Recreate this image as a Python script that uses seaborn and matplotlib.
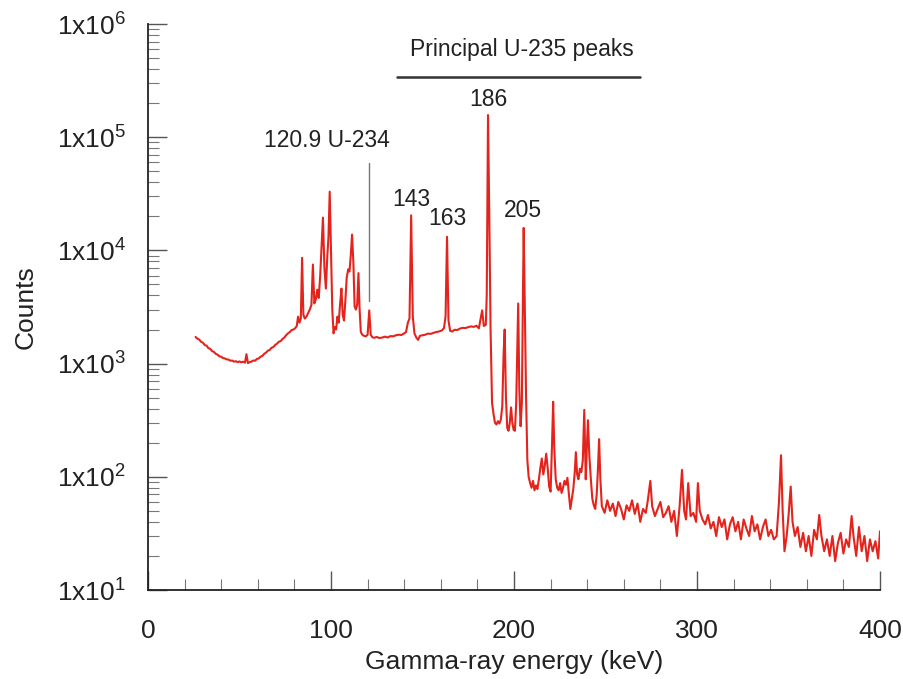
import numpy as np
import pandas as pd
import matplotlib
matplotlib.use("Agg")
import matplotlib.pyplot as plt
import seaborn as sns
from matplotlib.ticker import MultipleLocator, LogLocator, FixedLocator, NullFormatter

# ---- spectrum: gamma-ray energy (keV) and counts per channel ----
# low-energy continuum
energy_cont = [26, 27, 28, 29, 30, 31, 32, 33, 34, 35, 36, 37, 38, 39, 40, 41, 42, 43, 44, 45,
               46, 47, 48, 49, 50, 51, 52, 53, 53.8, 54.6, 55.5, 56.5, 57.5, 58.5, 59.5, 60.5,
               61.5, 62.5, 63.5, 64.5, 65.5, 66.5, 67.5, 68.5, 69.5, 70.5, 71.5, 72.5, 73.5,
               74.5, 75.5, 76.5, 77.5, 78.5, 79.5, 80.5, 81.3]
counts_cont = [1720, 1660, 1630, 1560, 1530, 1460, 1440, 1370, 1350, 1290, 1270, 1220, 1200,
               1160, 1150, 1120, 1110, 1090, 1085, 1060, 1065, 1040, 1050, 1030, 1045, 1025,
               1040, 1020, 1210, 1010, 1030, 1040, 1065, 1060, 1100, 1110, 1150, 1170, 1220,
               1250, 1300, 1320, 1380, 1400, 1460, 1500, 1560, 1580, 1650, 1700, 1780, 1850,
               1900, 1980, 2000, 2060, 2150]

# x-ray / U-234 region
energy_xray = [82, 82.8, 83.5, 84.2, 84.9, 85.7, 86.6, 87.5, 88.4, 89.3, 90.1, 90.9, 91.7, 92.5,
               93.3, 94.1, 94.8, 95.6, 96.4, 97.2, 98.0, 98.6, 99.3, 100.0, 100.7, 101.4, 102.1,
               102.8, 103.5, 104.2, 105.0, 105.7, 106.4, 107.1, 107.8, 108.6, 109.4, 110.1,
               110.8, 111.5, 112.2, 112.9, 113.6, 114.3, 115.0, 115.6, 116.3, 117.1, 118.0,
               119.0, 120.0, 120.9, 121.7, 122.6]
counts_xray = [2600, 2300, 2500, 8600, 2700, 2500, 2600, 2800, 3000, 3300, 7500, 3400, 3700,
               4500, 3800, 6000, 10500, 19500, 7000, 4600, 9000, 13000, 33000, 9500, 3000, 1850,
               2100, 2000, 2600, 2300, 3400, 4600, 2700, 2400, 3500, 5800, 6800, 6500, 9000,
               13800, 8000, 3200, 3000, 3300, 6300, 3100, 1900, 1800, 1760, 1740, 1800, 2950,
               1800, 1710]

# principal U-235 lines 143 / 163 / 186
energy_main = [123.5, 125, 126.5, 128, 129.5, 131, 132.5, 134, 135.5, 137, 138.5, 140, 141, 142,
               142.9, 143.8, 144.7, 145.6, 146.6, 147.6, 148.6, 150, 151.5, 153, 154.5, 156,
               157.5, 159, 160.5, 161.7, 162.6, 163.4, 164.2, 165.1, 166.2, 167.5, 169, 170.5,
               172, 173.5, 175, 176.5, 178, 179.5, 180.8, 181.8, 182.6, 183.5, 184.6, 185.1,
               185.8, 186.5, 187.2, 188.0, 188.8]
counts_main = [1690, 1720, 1680, 1700, 1730, 1700, 1750, 1740, 1780, 1800, 1790, 1850, 1900,
               2300, 2500, 20400, 2600, 1850, 1700, 1620, 1760, 1780, 1800, 1840, 1830, 1870,
               1900, 1920, 1960, 2050, 2600, 13200, 2400, 1950, 1920, 1990, 1980, 2040, 2070,
               2060, 2100, 2130, 2110, 2160, 2050, 2500, 2950, 2150, 2200, 4000, 157000, 20000,
               2000, 450, 360]

# 195 / 202 / 205 group
energy_205 = [189.6, 190.4, 191.2, 192, 192.8, 193.6, 194.3, 194.9, 195.6, 196.3, 197, 197.7,
              198.4, 199.1, 199.8, 200.5, 201.2, 201.8, 202.3, 202.9, 203.6, 204.3, 204.8,
              205.3, 205.9, 206.6, 207.3, 208]
counts_205 = [300, 290, 310, 295, 320, 420, 1200, 2000, 500, 270, 255, 300, 410, 300, 260, 255,
              450, 1400, 3400, 600, 280, 450, 3000, 15800, 3000, 500, 140, 100]

# 208-248 keV
energy_mid = [208.8, 209.6, 210.4, 211.2, 212, 212.8, 213.6, 214.4, 215.2, 216, 216.8, 217.6,
              218.4, 219.2, 220, 220.8, 221.4, 222, 222.8, 223.6, 224.4, 225.2, 226, 226.8,
              227.6, 228.4, 229.2, 230, 230.8, 231.6, 232.4, 233.2, 233.8, 234.5, 235.2, 236,
              236.8, 237.6, 238.4, 239.2, 239.8, 240.4, 241.2, 242, 242.8, 243.6, 244.4, 245.2,
              245.9, 246.5, 247.2]
counts_mid = [88, 80, 92, 76, 84, 78, 95, 120, 145, 105, 125, 160, 120, 82, 74, 200, 460, 180,
              95, 80, 76, 88, 72, 80, 92, 85, 98, 70, 52, 64, 78, 110, 165, 105, 95, 118, 110,
              140, 390, 95, 180, 316, 150, 95, 64, 56, 52, 70, 120, 215, 95]

# high-energy tail
energy_tail = [248, 249.5, 251, 252.5, 254, 255.5, 257, 258.5, 260, 261.5, 263, 264.5, 266,
               267.5, 269, 270.5, 272, 273, 274.5, 275.5, 277, 278.5, 280, 281.5, 283, 284.5,
               286, 287.5, 289, 290.5, 291.8, 293, 294, 295.2, 296.5, 298, 299.5, 300.5, 301.5,
               303, 304.5, 306, 307.5, 309, 310.5, 312, 313.5, 315, 316.5, 318, 319.5, 321,
               322.5, 324, 325.5, 327, 328.5, 330, 331.5, 333, 334.5, 336, 337.5, 339, 340.5,
               342, 343.5, 344.8, 345.9, 346.8, 347.8, 349, 350, 351.2, 352.2, 353.5, 355,
               356.5, 358, 359.5, 361, 362.5, 364, 365.5, 366.8, 368, 369.5, 371, 372.5, 374,
               375.5, 377, 378.5, 380, 381.5, 383, 384.5, 385.5, 387, 388.5, 390, 391.5, 393,
               394.5, 396, 397.5, 399, 400]
counts_tail = [55, 48, 62, 50, 58, 45, 60, 52, 42, 56, 50, 62, 47, 58, 40, 52, 48, 60, 92, 55,
               45, 52, 60, 44, 48, 55, 40, 50, 30, 55, 115, 50, 42, 88, 45, 48, 40, 88, 50, 42,
               38, 46, 35, 40, 30, 44, 36, 42, 28, 38, 44, 33, 40, 28, 42, 35, 30, 45, 33, 38,
               28, 36, 42, 30, 34, 28, 30, 60, 155, 50, 22, 30, 45, 82, 40, 30, 36, 24, 32, 22,
               30, 20, 34, 28, 46, 30, 22, 28, 20, 30, 18, 26, 32, 21, 28, 24, 45, 30, 20, 36,
               22, 30, 18, 28, 22, 27, 19, 33]

# peak labels
peak_labels = ["143", "163", "186", "205"]
peak_label_energy = [143.7, 163.4, 185.8, 205.0]
peak_label_counts = [2.79e4, 1.93e4, 2.14e5, 2.23e4]
u234_energy = 120.9
bracket_span = [136, 269]

spectrum = pd.DataFrame({
    "energy": energy_cont + energy_xray + energy_main + energy_205 + energy_mid + energy_tail,
    "counts": counts_cont + counts_xray + counts_main + counts_205 + counts_mid + counts_tail,
})

sns.set_theme(style="ticks")
plt.rcParams["font.family"] = ["Liberation Sans", "DejaVu Sans"]
plt.rcParams["mathtext.fontset"] = "custom"
plt.rcParams["mathtext.rm"] = "Liberation Sans"
plt.rcParams["mathtext.it"] = "Liberation Sans:italic"
plt.rcParams["mathtext.bf"] = "Liberation Sans:bold"

fig = plt.figure(figsize=(9.04, 6.79), dpi=100)
ax = fig.add_axes([148 / 904, 89 / 679, 732 / 904, 566 / 679])

sns.lineplot(data=spectrum, x="energy", y="counts", ax=ax, color="#e4241c",
             linewidth=1.5, estimator=None, sort=False)

ax.set_yscale("log")
ax.set_xlim(0, 400)
ax.set_ylim(10, 1e6)

sns.despine(ax=ax)
for side in ("left", "bottom"):
    ax.spines[side].set_color("#222222")
    ax.spines[side].set_linewidth(1.3)

ax.xaxis.set_major_locator(MultipleLocator(100))
ax.xaxis.set_minor_locator(MultipleLocator(20))
decades = [1e1, 1e2, 1e3, 1e4, 1e5, 1e6]
ax.yaxis.set_major_locator(FixedLocator(decades))
ax.set_yticklabels([r"1x10$^{%d}$" % int(np.log10(d)) for d in decades])
ax.yaxis.set_minor_locator(LogLocator(base=10, subs=np.arange(2, 10), numticks=20))
ax.yaxis.set_minor_formatter(NullFormatter())

ax.tick_params(axis="both", which="major", direction="in", length=14, width=1.0,
               color="#555555", labelsize=19, labelcolor="#222222")
ax.tick_params(axis="both", which="minor", direction="in", length=8, width=0.8,
               color="#777777")
ax.tick_params(axis="x", which="major", pad=21)
ax.tick_params(axis="y", which="major", pad=16)

ax.set_xlabel("Gamma-ray energy (keV)", fontsize=19, color="#222222", labelpad=5)
ax.set_ylabel("Counts", fontsize=19, color="#222222", labelpad=14)

# annotations
txt_kw = dict(fontsize=16.5, color="#222222", ha="center", va="center")
ax.text(204.4, 5.9e5, "Principal U-235 peaks", **txt_kw)
ax.plot(bracket_span, [3.4e5, 3.4e5], color="#333333", linewidth=1.8)
for lab, e, c in zip(peak_labels, peak_label_energy, peak_label_counts):
    ax.text(e, c, lab, **txt_kw)
ax.text(97.8, 9.4e4, "120.9 U-234", **txt_kw)
ax.plot([u234_energy, u234_energy], [5.9e4, 3.6e3], color="#777777", linewidth=1.0)

fig.savefig("out.png", dpi=100)
